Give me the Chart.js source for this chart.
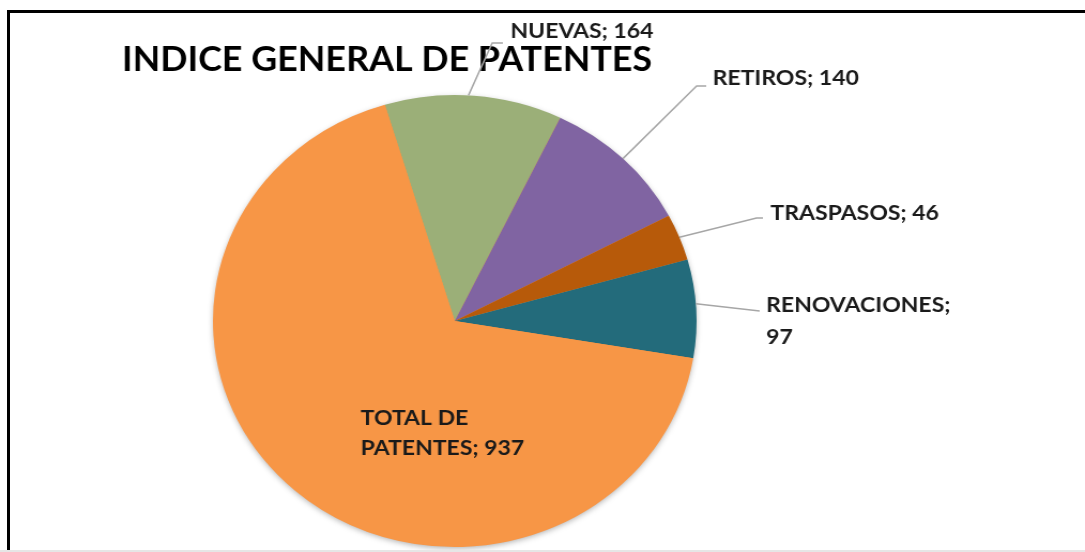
<!DOCTYPE html>
<html>
<head>
<meta charset="utf-8">
<script src="https://cdn.jsdelivr.net/npm/chart.js@4"></script>
<style>
  body { margin: 0; background: #fff; }
  #frame {
    position: absolute; left: 0; top: 0; width: 1085px; height: 552px;
    overflow: hidden; background: #fff;
  }
  #border {
    position: absolute; left: 7px; top: 10px; width: 1100px; height: 560px;
    border-left: 3px solid #000; border-top: 3px solid #000;
  }
  #bottomline {
    position: absolute; left: 0; top: 550px; width: 1085px; height: 2px; background: #e6e6e6;
  }
  /* la figure d'origine est etiree horizontalement */
  #wrap {
    position: absolute; left: 0; top: 0; width: 1014px; height: 552px;
    transform: scaleX(1.07); transform-origin: 0 0;
  }
</style>
</head>
<body>
<div id="frame">
  <div id="border"></div>
  <div id="wrap"><canvas id="pieChart" width="1014" height="552"></canvas></div>
  <div id="bottomline"></div>
</div>
<script>
// Donnees du graphique
const categories = ['NUEVAS', 'RETIROS', 'TRASPASOS', 'RENOVACIONES', 'TOTAL DE PATENTES'];
const valeurs = [164, 140, 46, 97, 937];
const couleurs = ['#9BAF78', '#8064A2', '#B75A0A', '#236B7B', '#F79646'];

// Lignes de texte des etiquettes
const etiquettes = [
    ['NUEVAS; 164'],
    ['RETIROS; 140'],
    ['TRASPASOS; 46'],
    ['RENOVACIONES;', '97'],
    ['TOTAL DE', 'PATENTES; 937']
];

const titre = 'INDICE GENERAL DE PATENTES';
const police = 'Lato, "Open Sans", sans-serif';

// Placement des etiquettes (en unites du canvas, avant etirement)
// tx/ty : position du texte, coude/fin : trace de la ligne de rappel
const placements = [
    { tx: 477, ty: 31, coude: [460, 43], fin: [470, 43], frac: 0.47 },
    { tx: 666, ty: 78, coude: [651, 86], fin: [660, 86], frac: 0.5 },
    { tx: 720, ty: 213, coude: [707, 218], fin: [713, 218], frac: 0.5 },
    { tx: 716, ty: 305, coude: [710, 311], fin: [710, 311], frac: 0.45 },
    null
];

const etiquettesPlugin = {
    id: 'etiquettes',
    beforeDatasetsDraw(chart) {
        // ombre legere sous la tarte
        const ctx = chart.ctx;
        const arc = chart.getDatasetMeta(0).data[0];
        ctx.save();
        ctx.shadowColor = 'rgba(0,0,0,0.35)';
        ctx.shadowBlur = 6;
        ctx.shadowOffsetY = 2;
        ctx.beginPath();
        ctx.arc(arc.x, arc.y, arc.outerRadius - 1, 0, Math.PI * 2);
        ctx.fillStyle = '#F79646';
        ctx.fill();
        ctx.restore();
    },
    afterDraw(chart) {
        const ctx = chart.ctx;
        const meta = chart.getDatasetMeta(0);
        ctx.save();

        // titre
        ctx.fillStyle = '#000';
        ctx.font = 'bold 33.5px ' + police;
        ctx.textAlign = 'left';
        ctx.textBaseline = 'middle';
        ctx.fillText(titre, 114, 60);

        ctx.font = 'bold 21.5px ' + police;
        ctx.fillStyle = '#1a1a1a';
        meta.data.forEach((arc, i) => {
            const p = placements[i];
            const lignes = etiquettes[i];
            if (!p) {
                // etiquette a l'interieur de la part
                ctx.textAlign = 'left';
                lignes.forEach((l, k) => ctx.fillText(l, 337, 418 + k * 30));
                return;
            }
            // point du bord de la part
            const a = arc.startAngle + (arc.endAngle - arc.startAngle) * p.frac;
            const r = arc.outerRadius;
            const x0 = arc.x + Math.cos(a) * r;
            const y0 = arc.y + Math.sin(a) * r;
            ctx.strokeStyle = '#a6a6a6';
            ctx.lineWidth = 1.5;
            ctx.beginPath();
            ctx.moveTo(x0, y0);
            ctx.lineTo(p.coude[0], p.coude[1]);
            ctx.lineTo(p.fin[0], p.fin[1]);
            ctx.stroke();
            ctx.textAlign = 'left';
            lignes.forEach((l, k) => ctx.fillText(l, p.tx, p.ty + k * 32));
        });
        ctx.restore();
    }
};

function createPieChart() {
    const canvas = document.getElementById('pieChart');
    const ctx = canvas.getContext('2d');
    return new Chart(ctx, {
        type: 'pie',
        data: {
            labels: categories,
            datasets: [{
                data: valeurs,
                backgroundColor: couleurs,
                borderWidth: 0
            }]
        },
        options: {
            responsive: false,
            animation: false,
            rotation: -16.8,
            layout: {
                padding: { left: 198, right: 362, top: 95, bottom: 5 }
            },
            plugins: {
                legend: { display: false },
                tooltip: { enabled: false },
                title: { display: false }
            }
        },
        plugins: [etiquettesPlugin]
    });
}

createPieChart();
</script>
</body>
</html>
